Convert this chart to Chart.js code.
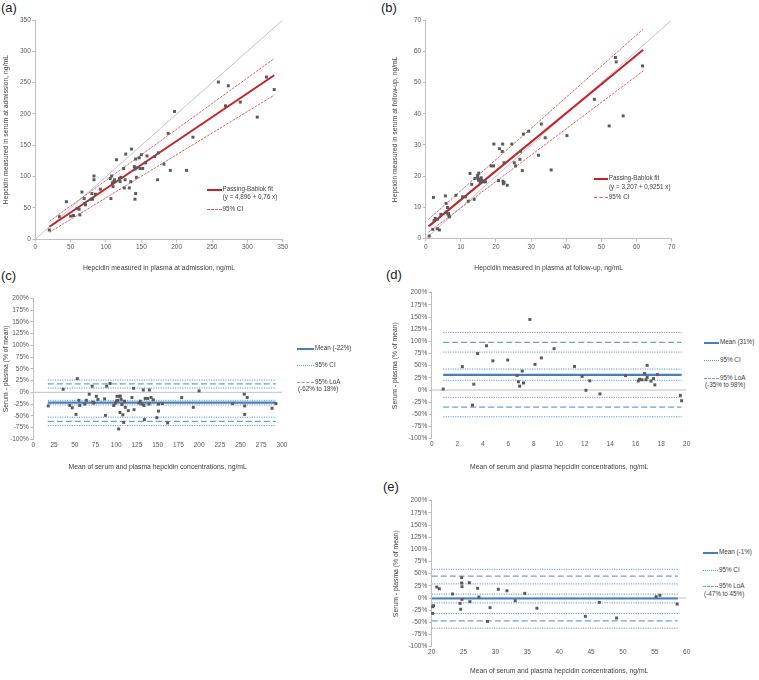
<!DOCTYPE html>
<html><head><meta charset="utf-8">
<script src="https://cdn.jsdelivr.net/npm/chart.js@4.4.1/dist/chart.umd.min.js"></script>
<style>
body{margin:0;background:#fff;width:759px;height:680px;position:relative;overflow:hidden;font-family:"Liberation Sans",Arial,sans-serif;}
.panel{position:absolute;}
.lbl{position:absolute;font-size:13px;color:#222;line-height:1;}
.leg{position:absolute;font-size:6.3px;color:#404040;white-space:nowrap;line-height:1;}
.sw{position:absolute;height:0;}
</style></head><body>
<div class="lbl" style="left:1px;top:1px">(a)</div>
<div class="lbl" style="left:381px;top:1px">(b)</div>
<div class="lbl" style="left:1px;top:269px">(c)</div>
<div class="lbl" style="left:386px;top:268px">(d)</div>
<div class="lbl" style="left:383px;top:480px">(e)</div>

<div class="panel" style="left:0;top:0"><canvas id="cA" width="300" height="272"></canvas></div>
<div class="panel" style="left:380px;top:0"><canvas id="cB" width="300" height="272"></canvas></div>
<div class="panel" style="left:0;top:280px"><canvas id="cC" width="300" height="191"></canvas></div>
<div class="panel" style="left:380px;top:275px"><canvas id="cD" width="320" height="196"></canvas></div>
<div class="panel" style="left:380px;top:490px"><canvas id="cE" width="320" height="185"></canvas></div>

<script>
// ---------- DATA ----------
// (a) admission: plasma (x) vs serum (y), ng/mL
const plasmaAdm = [19.8,34,44,50,54,59,62,63,66,69,70,71,80,79,81,83,83,85,92,106,107,108,109,110,111,112,115,119,120,121,125,126,127,128,133,135,136,140,141,141,142,142,143,143,147,148,150,152,156,158,169,174,173,182,188,191,197,214,223,259,269,273,290,314,327,338];
const serumAdm  = [14.9,36,60,37,38,49,48,39,75.5,65,57,55,73,64,64,101,95,72,80,97,65,101,90,84,92,95,127,97,92,99,113,82,95,136,82,92,144,116,112,64,128,73,114,99,130,113,135,113,122,133,132,138,95,120,169,110,204,110,163,251,213,245,219,195,259,239];
const fitA = [4.896, 0.76];          // intercept, slope
const fitRangeA = [20, 338];
const ciUpperA = [28.7, 288.5];      // at fitRangeA ends
const ciLowerA = [11.2, 230];
const identityA = [0, 350];

// (b) follow-up
const plasmaFu = [1.0,2.0,2.2,2.4,2.7,3.3,3.3,3.9,4.3,5.6,5.8,6.2,5.8,6.3,6.6,6.8,6.5,8.6,10.5,11.3,12.1,12.6,13.1,13.8,14.0,14.8,14.8,15.0,15.1,15.5,15.5,15.8,16.0,16.4,17.0,18.6,19.3,19.4,20.7,21.0,21.8,21.9,22.0,22.1,22.3,23.2,22.3,24.5,25.2,25.6,26.8,27.0,27.5,27.8,29.3,32.1,32.9,34.0,35.7,40.2,48.0,52.2,54.0,54.2,56.2,61.7];
const serumFu  = [0.85,3.0,13.2,5.8,6.5,6.2,3.2,2.8,7.8,13.7,11.3,10.0,8.5,7.9,7.4,7.0,8.0,13.9,13.4,13.4,12.0,20.9,17.4,12.6,19.3,20.3,19.5,18.7,21.0,19.0,18.0,19.5,18.7,18.2,18.2,23.3,23.3,30.3,18.6,28.8,27.9,30.3,18.4,17.6,18.0,17.1,24.3,30.3,24.3,23.3,25.4,28.0,21.8,33.5,34.4,26.7,36.7,32.3,22.0,33.0,44.6,36.1,58.0,56.6,39.3,55.3];
const fitB = [3.207, 0.9251];
const fitRangeB = [0.8, 61.9];
const ciUpperB = [6.2, 67.1];
const ciLowerB = [2.1, 53.7];
const identityB = [0, 70];

// (c) Bland-Altman admission
const meanC = [18,36,44,47,51.5,53,55,56,62,64,67.5,71,72,73,76,78,86,87,88.5,92.5,97,99,100.5,101,102,103,104,104.5,105,106,107,108,109,110,111,114.6,119,121,121.5,127.5,129,131,132.7,133.5,134,135,138,139.5,140,142,144.8,149,151,151,155.6,162,179,193,200,240.5,254.5,255,255,258,288,292.7];
const diffC = [-29,6.4,-28,-33,-47,29,-17,-28,-25,-17,-4,13,-21,-23,-8.5,-15,-14,-49,13,19,-28,-23,-18,-8.5,-17,-78,-8.5,-43,-8,-15,-26,-48,-64,-19,-32,-39,-11,8.5,-37,-23,-19,-25,5,-28,-58,-13,-13,-25,5,-11,-16,-54,-40,-25,-24,-65,-11,-32,3,-24,-4,-29,-47,-11,-34,-24];
const statsC = [-22, -17, -27, 18, 26, 9, -62, -53, -71]; // mean, meanCI hi, lo, LoA up, CI hi, lo, LoA low, CI hi, lo
const spanC = [17.5, 292.7];
const zeroSpanC = [0, 300];

// (d) Bland-Altman follow-up
const meanD = [0.9,2.4,3.2,3.3,3.6,4.3,4.8,5.96,6.7,6.8,6.9,7.1,7.2,7.7,8.1,8.6,9.6,11.2,11.8,12.1,12.4,13.2,15.2,16.2,16.3,16.5,16.8,16.9,16.7,16.9,17.2,17.4,17.5,17.7,19.5,19.6];
const diffD = [2,48,-31,12,75,91,60,61.6,30,17,8,39,14.5,145,52.7,66,85,48.5,28,-0.5,19,-8,29.5,18.5,22,21,21,50.7,34,26,18.5,23.5,10.6,31.6,-11,-22];
const statsD = [31, 43, 20, 98, 118, 78, -35, -15, -55];
const spanD = [0.9, 19.6];
const zeroSpanD = [0, 20];

// (e) Bland-Altman (high range)
const meanE = [20.15,20.3,20.15,20.8,21.2,23.25,24.45,24.55,24.7,24.7,24.75,24.75,25.9,26.0,27.2,27.4,28.75,29.15,30.45,31.8,33.1,34.6,36.5,44.1,46.3,49.0,55.2,55.8,58.5];
const diffE = [-17.8,-15.8,-31.5,22.6,19,8.3,-11,-23,41.8,30.8,23.3,-2.7,31.5,-7.5,20,2,-48,-19.8,18,15,-5.5,9.6,-21,-37.6,-8.9,-41,2.8,5.6,-12.3];
const statsE = [-1, 8, -10, 45, 59, 29, -47, -32, -62];
const spanE = [20, 58.6];
const zeroSpanE = [20, 60];

// ---------- STYLE ----------
const FONT = "'Liberation Sans', Arial, sans-serif";
Chart.defaults.font.family = FONT;
Chart.defaults.color = '#595959';
Chart.defaults.animation = false;
const AXIS = '#bfbfbf';
const PT = '#5a5a5a';
const RED = '#c8202a', RED_L = '#e8595f';
const BLUE = '#4a7ebb', BLUE_D = '#5b9bd5', BLUE_L = '#6aa0dc';

function pts(xs, ys){ return xs.map((x,i)=>({x:x, y:ys[i]})); }
function hline(span, v){ return span.map(x=>({x:x, y:v})); }

function scatterSet(xs, ys){
  return {type:'scatter', data:pts(xs,ys), pointStyle:'rect', pointRadius:2.1,
    backgroundColor:PT, borderWidth:0, order:0, clip:false};
}
function lineSet(data, color, width, dash, order){
  return {type:'line', data:data, borderColor:color, borderWidth:width, borderDash:dash||[],
    pointRadius:0, fill:false, tension:0, order:order};
}

function makeChart(id, datasets, o){
  return new Chart(document.getElementById(id), {
    type:'scatter',
    data:{datasets:datasets},
    options:{
      responsive:false, animation:false, events:[],
      layout:{padding:o.pad},
      plugins:{legend:{display:false}, tooltip:{enabled:false}},
      scales:{
        x:{type:'linear', min:o.xmin, max:o.xmax,
          afterFit:(s)=>{s.height=o.xh;},
          border:{display:!o.ba, color:AXIS, width:1},
          grid:{display:true, drawOnChartArea:false, drawTicks:!o.ba, tickLength:o.ba?0:3, color:AXIS},
          ticks:{stepSize:o.xstep, autoSkip:false, maxRotation:0, padding:o.ba?2:1.5, font:{size:6.5}, color:'#595959'},
          title:{display:true, text:o.xtitle, color:'#404040', font:{size:6.8}, padding:{top:0,bottom:0}}
        },
        y:{type:'linear', min:o.ymin, max:o.ymax,
          afterFit:(s)=>{s.width=o.yw;},
          border:{display:true, color:AXIS, width:1},
          grid:{display:true, drawOnChartArea:false, drawTicks:true, tickLength:3, color:AXIS},
          ticks:{stepSize:o.ystep, autoSkip:false, padding:1.5, font:{size:6.5}, color:'#595959',
            callback:o.ba ? (v)=>v+'%' : (v)=>v},
          title:{display:true, text:o.ytitle, color:'#404040', font:{size:6.8}, padding:{top:o.ytp,bottom:0}}
        }
      }
    }
  });
}

// (a)
makeChart('cA', [
  scatterSet(plasmaAdm, serumAdm),
  lineSet(fitRangeA.map(x=>({x:x, y:fitA[0]+fitA[1]*x})), RED, 2, [], 1),
  lineSet(pts(fitRangeA, ciUpperA), RED_L, 1, [2.5,1.2], 2),
  lineSet(pts(fitRangeA, ciLowerA), RED_L, 1, [2.5,1.2], 2),
  lineSet(pts(identityA, identityA), '#c4c4c4', 1, [], 3)
], {pad:{left:0,top:20,right:17.3,bottom:0}, xmin:0,xmax:350,xstep:50, ymin:0,ymax:350,ystep:50,
    xh:32.7, yw:35.3, ytp:2,
    xtitle:'Hepcidin measured in plasma at admission, ng/mL',
    ytitle:'Hepcidin measured in serum at admission, ng/mL'});

// (b)
makeChart('cB', [
  scatterSet(plasmaFu, serumFu),
  lineSet(fitRangeB.map(x=>({x:x, y:fitB[0]+fitB[1]*x})), RED, 2, [], 1),
  lineSet(pts(fitRangeB, ciUpperB), RED_L, 1, [2.5,1.2], 2),
  lineSet(pts(fitRangeB, ciLowerB), RED_L, 1, [2.5,1.2], 2),
  lineSet(pts(identityB, identityB), '#c4c4c4', 1, [], 3)
], {pad:{left:10,top:20,right:8.3,bottom:0}, xmin:0,xmax:70,xstep:10, ymin:0,ymax:70,ystep:10,
    xh:33.3, yw:35.7, ytp:1,
    xtitle:'Hepcidin measured in plasma at follow-up, ng/mL',
    ytitle:'Hepcidin measured in serum at follow-up, ng/mL'});

function baSets(xs, ys, st, span, zspan){
  return [
    scatterSet(xs, ys),
    lineSet(hline(span, st[0]), BLUE, 2.2, [], 1),
    lineSet(hline(span, st[1]), BLUE_D, 1, [1.2,1.2], 2),
    lineSet(hline(span, st[2]), BLUE_D, 1, [1.2,1.2], 2),
    lineSet(hline(span, st[3]), BLUE_L, 1.2, [6,3], 2),
    lineSet(hline(span, st[4]), BLUE_D, 1, [1.2,1.2], 2),
    lineSet(hline(span, st[5]), BLUE_D, 1, [1.2,1.2], 2),
    lineSet(hline(span, st[6]), BLUE_L, 1.2, [6,3], 2),
    lineSet(hline(span, st[7]), BLUE_D, 1, [1.2,1.2], 2),
    lineSet(hline(span, st[8]), BLUE_D, 1, [1.2,1.2], 2),
    lineSet(hline(zspan, 0), '#bfbfbf', 1, [], 3)
  ];
}
const BA_X = 'Mean of serum and plasma hepcidin concentrations, ng/mL';
const BA_Y = 'Serum - plasma (% of mean)';

makeChart('cC', baSets(meanC, diffC, statsC, spanC, zeroSpanC),
  {ba:true, pad:{left:0,top:18.3,right:18,bottom:0}, xmin:0,xmax:300,xstep:25, ymin:-100,ymax:200,ystep:25,
   xh:31.7, yw:33.3, ytp:2, xtitle:BA_X, ytitle:BA_Y});
makeChart('cD', baSets(meanD, diffD, statsD, spanD, zeroSpanD),
  {ba:true, pad:{left:10,top:17.7,right:13.3,bottom:0}, xmin:0,xmax:20,xstep:2, ymin:-100,ymax:200,ystep:25,
   xh:32.3, yw:41.7, ytp:1, xtitle:BA_X, ytitle:BA_Y});
makeChart('cE', baSets(meanE, diffE, statsE, spanE, zeroSpanE),
  {ba:true, pad:{left:10,top:10.7,right:13.3,bottom:0}, xmin:20,xmax:60,xstep:5, ymin:-100,ymax:200,ystep:25,
   xh:28.3, yw:41.7, ytp:2.5, xtitle:BA_X, ytitle:BA_Y});

// ---------- LEGENDS (HTML) ----------
function legLine(x1, x2, y, css){
  const d = document.createElement('div'); d.className='sw';
  d.style.left = x1+'px'; d.style.width=(x2-x1)+'px'; d.style.top=(y - 0.5)+'px';
  d.style.borderTop = css; document.body.appendChild(d);
}
function legText(x, y, t){
  const d = document.createElement('div'); d.className='leg';
  d.style.left = x+'px'; d.style.top=(y-3.3)+'px'; d.textContent=t; document.body.appendChild(d);
}
// (a)
legLine(207.3, 221.7, 189.3, '2px solid '+RED);
legText(222.5, 189.3, 'Passing-Bablok fit');
legText(222.7, 197.7, '(y = 4,896 + 0,76 x)');
legLine(207.3, 221.7, 209, '1px dashed '+RED_L);
legText(222.5, 209, '95% CI');
// (b)
legLine(594, 608.3, 178.3, '2px solid '+RED);
legText(608.8, 178.3, 'Passing-Bablok fit');
legText(609, 187, '(y = 3,207 + 0,9251 x)');
legLine(594, 608.3, 197.7, '1px dashed '+RED_L);
legText(608.8, 197.7, '95% CI');
// BA legends
function baLegend(x1, x2, yMean, yCI, yLoA, yLoA2, meanTxt, loaTxt){
  legLine(x1, x2, yMean, '2px solid '+BLUE);
  legText(x2+1, yMean, meanTxt);
  legLine(x1, x2, yCI, '1px dotted '+BLUE_D);
  legText(x2+1, yCI, '95% CI');
  legLine(x1, x2, yLoA, '1px dashed '+BLUE_L);
  legText(x2+1, yLoA, '95% LoA');
  legText(x1+1, yLoA2, loaTxt);
}
baLegend(297, 314, 348.3, 365, 382.3, 389.3, 'Mean (-22%)', '(-62% to 18%)');
baLegend(704, 719, 342.7, 360, 378, 385, 'Mean (31%)', '(-35% to 98%)');
baLegend(703, 718, 552.7, 570, 586.7, 594.5, 'Mean (-1%)', '(-47% to 45%)');
</script>
</body></html>
